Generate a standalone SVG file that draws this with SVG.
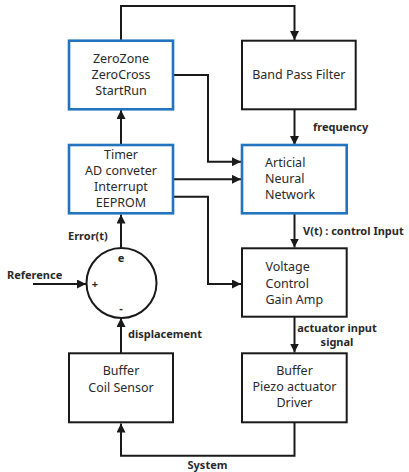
<svg xmlns="http://www.w3.org/2000/svg" width="409" height="472" viewBox="0 0 409 472">
  <style>
    .blk { fill: #fff; stroke: #1a1a1a; stroke-width: 2; }
    .blu { fill: #fff; stroke: #2374bf; stroke-width: 2.6; }
    .t { font-family: "Noto Sans", "Noto Sans CJK KR", sans-serif; font-size: 12.5px; fill: #2a2a2a; }
    .c { text-anchor: middle; }
    .lb { font-family: "Noto Sans", "Noto Sans CJK KR", sans-serif; font-size: 11px; font-weight: bold; fill: #2a2a2a; }
    .w { fill: none; stroke: #1a1a1a; stroke-width: 2; }
  </style>
  <defs>
    <marker id="ah" viewBox="0 0 10 10" refX="10" refY="5" markerWidth="4.5" markerHeight="4.5" orient="auto" markerUnits="strokeWidth">
      <path d="M0,0 L10,5 L0,10 z" fill="#1a1a1a"/>
    </marker>
  </defs>
  <rect width="409" height="472" fill="#fff"/>

  <g id="connectors">
    <polyline class="w" points="121,40 121,6 294.5,6 294.5,40" marker-end="url(#ah)"/>
    <line class="w" x1="121" y1="144" x2="121" y2="110" marker-end="url(#ah)"/>
    <line class="w" x1="294.5" y1="109" x2="294.5" y2="145" marker-end="url(#ah)"/>
    <polyline class="w" points="173,75 208,75 208,161.7 241,161.7" marker-end="url(#ah)"/>
    <line class="w" x1="173" y1="179.3" x2="241" y2="179.3" marker-end="url(#ah)"/>
    <polyline class="w" points="173,196.7 208,196.7 208,284 241,284" marker-end="url(#ah)"/>
    <line class="w" x1="294.5" y1="214" x2="294.5" y2="247.5" marker-end="url(#ah)"/>
    <line class="w" x1="121" y1="248" x2="121" y2="214.5" marker-end="url(#ah)"/>
    <line class="w" x1="33" y1="284" x2="86" y2="284" marker-end="url(#ah)"/>
    <line class="w" x1="121" y1="353" x2="121" y2="318" marker-end="url(#ah)"/>
    <line class="w" x1="294.5" y1="317" x2="294.5" y2="352.5" marker-end="url(#ah)"/>
    <polyline class="w" points="294.5,422.5 294.5,455.7 121,455.7 121,423.5" marker-end="url(#ah)"/>

    <text class="lb" x="313" y="130.5">frequency</text>
    <text class="lb" x="303" y="234.5">V(t) : control Input</text>
    <text class="lb" x="68" y="240">Error(t)</text>
    <text class="lb" x="7" y="279">Reference</text>
    <text class="lb" x="128" y="338">displacement</text>
    <text class="lb c" x="337" y="332">actuator input</text>
    <text class="lb c" x="337" y="346">signal</text>
    <text class="lb c" x="207.5" y="469">System</text>
  </g>

  <g id="zerozone">
    <rect class="blu" x="69" y="40.7" width="104" height="68.6"/>
    <text class="t c" x="121" y="63">ZeroZone</text>
    <text class="t c" x="121" y="78.5">ZeroCross</text>
    <text class="t c" x="121" y="94.5">StartRun</text>
  </g>

  <g id="bandpass">
    <rect class="blk" x="242" y="40.7" width="113.7" height="68.6"/>
    <text class="t c" x="298.8" y="78.5">Band Pass Filter</text>
  </g>

  <g id="timer">
    <rect class="blu" x="69" y="145" width="104" height="68.3"/>
    <text class="t c" x="121" y="158.5">Timer</text>
    <text class="t c" x="121" y="175">AD conveter</text>
    <text class="t c" x="121" y="191">Interrupt</text>
    <text class="t c" x="121" y="207">EEPROM</text>
  </g>

  <g id="ann">
    <rect class="blu" x="242" y="145" width="104.7" height="68.3"/>
    <text class="t" x="265" y="167">Articial</text>
    <text class="t" x="265" y="183">Neural</text>
    <text class="t" x="265" y="198.5">Network</text>
  </g>

  <g id="summer">
    <circle cx="121.5" cy="283" r="35" fill="#fff" stroke="#1a1a1a" stroke-width="2"/>
    <text class="lb c" x="121" y="262">e</text>
    <text class="lb c" x="95" y="288">+</text>
    <text class="lb c" x="121" y="312">-</text>
  </g>

  <g id="vcga">
    <rect class="blk" x="242" y="248.3" width="104.7" height="68.4"/>
    <text class="t" x="265.5" y="271">Voltage</text>
    <text class="t" x="265.5" y="287.5">Control</text>
    <text class="t" x="265.5" y="303.5">Gain Amp</text>
  </g>

  <g id="coilsensor">
    <rect class="blk" x="69" y="353.3" width="104" height="69"/>
    <text class="t c" x="121" y="375">Buffer</text>
    <text class="t c" x="121" y="391.5">Coil Sensor</text>
  </g>

  <g id="piezo">
    <rect class="blk" x="242" y="353.3" width="104.7" height="69"/>
    <text class="t c" x="294.5" y="374.5">Buffer</text>
    <text class="t c" x="294.5" y="390.5">Piezo actuator</text>
    <text class="t c" x="294.5" y="406.5">Driver</text>
  </g>
</svg>
